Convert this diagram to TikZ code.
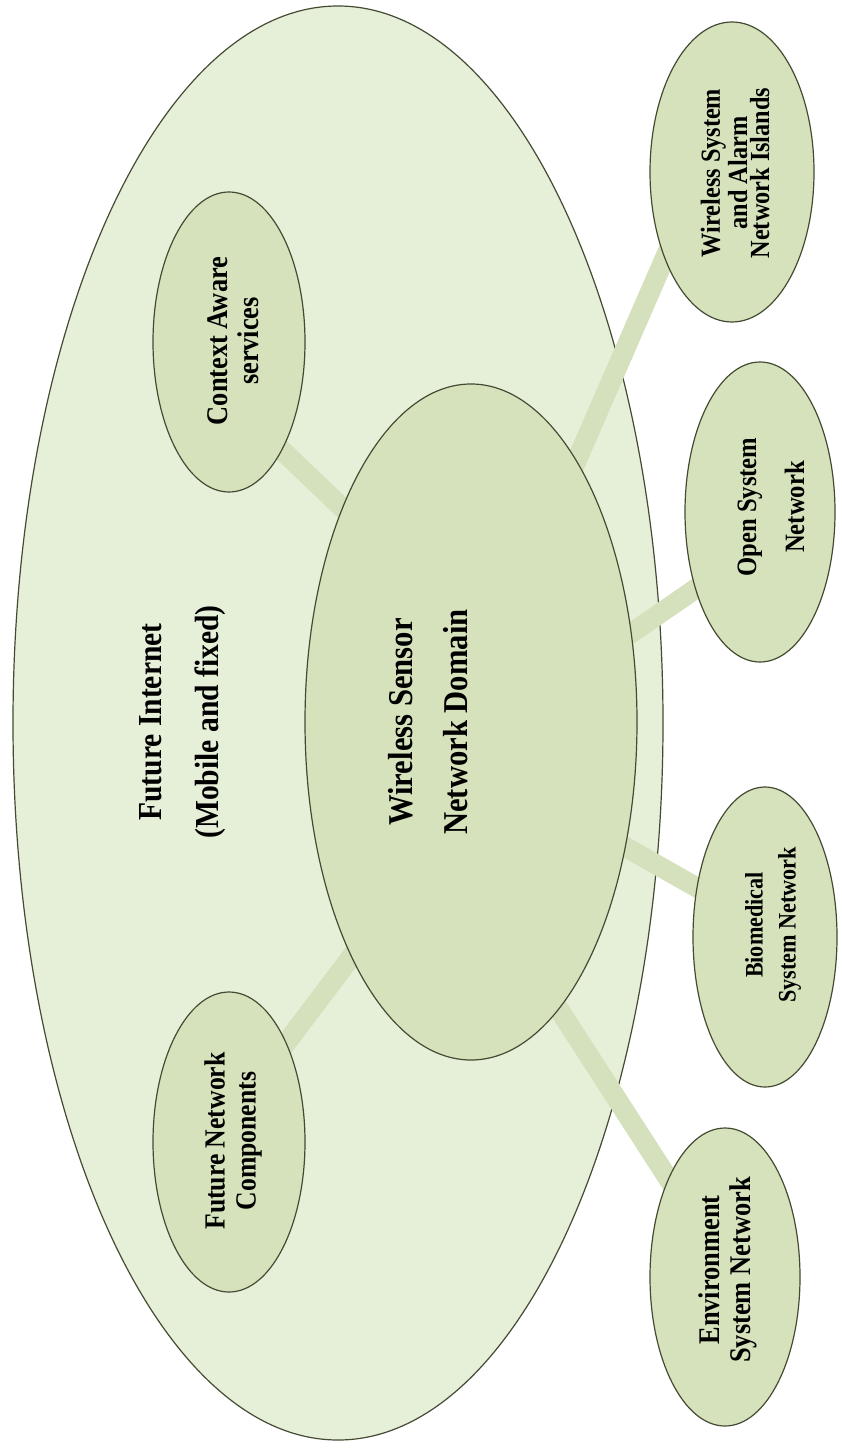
\documentclass[tikz,border=0pt]{standalone}
\usepackage{fontspec}
\setmainfont[FakeStretch=0.88]{Liberation Serif}
\usetikzlibrary{shapes.geometric}
\pgfdeclarelayer{bottom}
\pgfdeclarelayer{background}
\pgfsetlayers{bottom,background,main}
\definecolor{outerfill}{HTML}{E6EFD8}
\definecolor{innerfill}{HTML}{D6E2BB}
\definecolor{barfill}{HTML}{D5E0BD}
\definecolor{edgecol}{HTML}{454B33}
\begin{document}
\begin{tikzpicture}[x=0.5pt,y=-0.5pt,
  blob/.style={ellipse, draw=edgecol, line width=0.6pt, fill=innerfill, inner sep=0pt, outer sep=0pt},
  lbl/.style={rotate=90, align=center, text=black, inner sep=0pt},
  bar/.style={draw=barfill, line width=10pt, shorten <=-5pt, shorten >=-5pt}]
\useasboundingbox (0,0) rectangle (841,1449);
\begin{pgfonlayer}{bottom}
  \fill[white] (0,0) rectangle (841,1449);
  \node[blob, fill=outerfill, minimum width=325pt, minimum height=717pt] (fi) at (338,723) {};
\end{pgfonlayer}
% inner ellipses
\node[blob, minimum width=166pt, minimum height=338pt] (wsn) at (471,722) {};
\node[blob, minimum width=76pt, minimum height=150pt] (ctx) at (229,342) {};
\node[blob, minimum width=76pt, minimum height=150pt] (fnc) at (229,1142) {};
\node[blob, minimum width=82pt, minimum height=150pt] (wsa) at (732,172) {};
\node[blob, minimum width=75pt, minimum height=150pt] (osn) at (760,512) {};
\node[blob, minimum width=72pt, minimum height=150pt] (bsn) at (765,937) {};
\node[blob, minimum width=75pt, minimum height=149pt] (esn) at (725,1277) {};
% connectors
\begin{pgfonlayer}{background}
  \draw[bar] (wsn.121.5) -- (ctx.-64.7);
  \draw[bar] (wsn.243.6) -- (fnc.60.4);
  \draw[bar] (wsn.68.2) -- (wsa.-128.7);
  \draw[bar] (wsn.29.7) -- (osn.-130);
  \draw[bar] (wsn.-39.4) -- (bsn.144.1);
  \draw[bar] (wsn.-73.4) -- (esn.120.9);
\end{pgfonlayer}
% labels
\node[lbl, font=\bfseries\fontsize{16.8}{28.5}\selectfont] (tfi) at (183,722) {Future Internet\\(Mobile and fixed)};
\node[lbl, font=\bfseries\fontsize{17.4}{27.5}\selectfont] (twsn) at (428,722) {Wireless Sensor\\Network Domain};
\node[lbl, font=\bfseries\fontsize{15}{15.5}\selectfont] (tctx) at (233,341) {Context Aware\\services};
\node[lbl, font=\bfseries\fontsize{14.6}{15.5}\selectfont] (tfnc) at (233,1141) {Future Network\\Components};
\node[lbl, font=\bfseries\fontsize{13.8}{11}\selectfont] (twsa) at (735,173) {Wireless System\\and Alarm\\Network Islands};
\node[lbl, font=\bfseries\fontsize{14}{24}\selectfont] (tosn) at (771,507) {Open System\\Network};
\node[lbl, font=\bfseries\fontsize{12.6}{16.5}\selectfont] (tbsn) at (773,925) {Biomedical\\System Network};
\node[lbl, font=\bfseries\fontsize{15}{15.5}\selectfont] (tesn) at (728,1270) {Environment\\System Network};
\end{tikzpicture}
\end{document}
